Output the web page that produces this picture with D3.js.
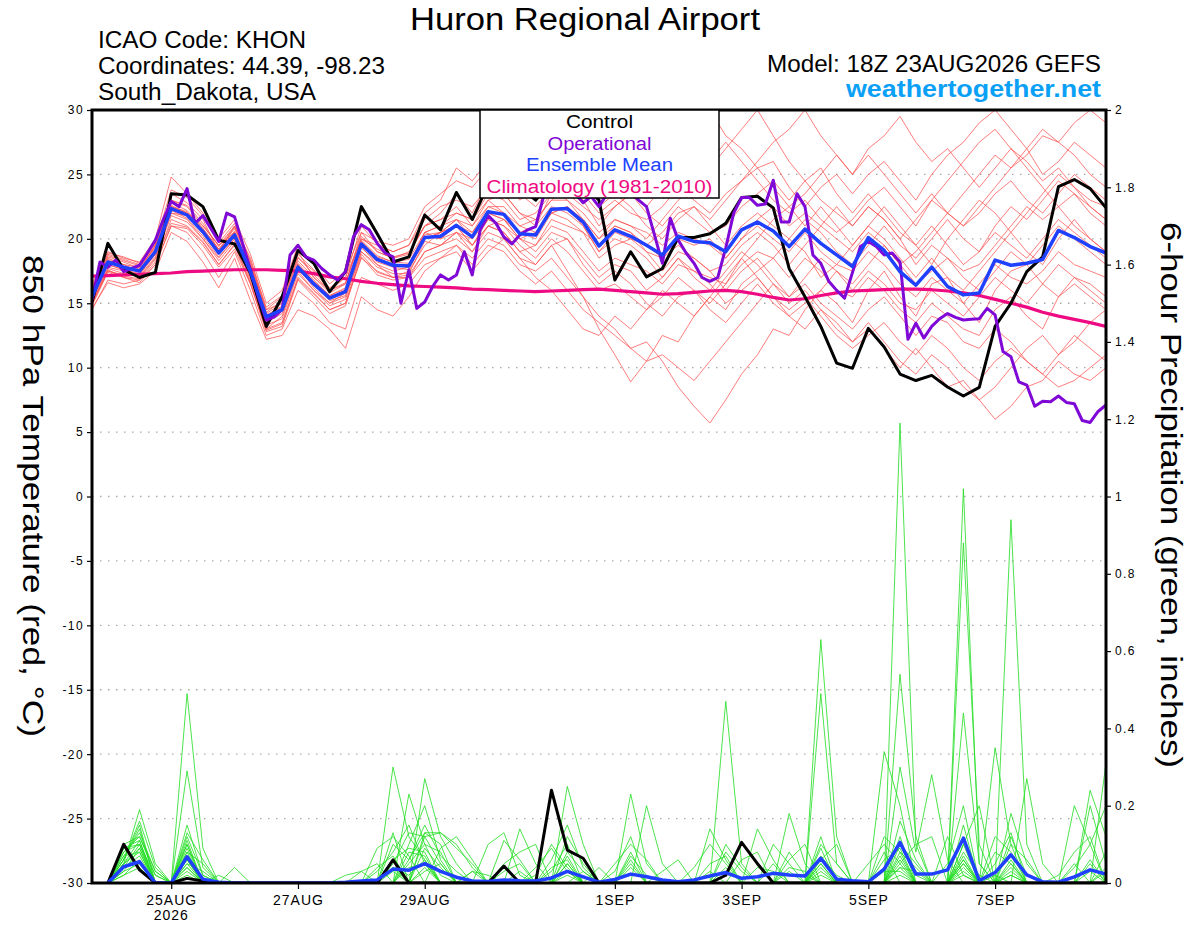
<!DOCTYPE html>
<html>
<head>
<meta charset="utf-8">
<script src="https://d3js.org/d3.v7.min.js"></script>
<style>
  body { margin: 0; background: #fff; }
  text { font-family: "Liberation Sans", Arial, sans-serif; }
</style>
</head>
<body>
<div id="chart"></div>
<script>
// ---- time axis ----
const startTime = Date.UTC(2026, 7, 23, 18); // 18Z 23AUG2026
const tickDates = [Date.UTC(2026,7,25), Date.UTC(2026,7,27), Date.UTC(2026,7,29),
                   Date.UTC(2026,8,1), Date.UTC(2026,8,3), Date.UTC(2026,8,5), Date.UTC(2026,8,7)];
const tickLabels = ["25AUG", "27AUG", "29AUG", "1SEP", "3SEP", "5SEP", "7SEP"];
const tempTicks = [-30, -25, -20, -15, -10, -5, 0, 5, 10, 15, 20, 25, 30];
const precipTicks = [0, 0.2, 0.4, 0.6, 0.8, 1, 1.2, 1.4, 1.6, 1.8, 2];

// ---- 850 hPa temperature, 6-hourly (65 points) ----
const control = [
  15.1,19.65,17.6,17.0,17.4,23.5,23.4,22.5,
  19.9,19.6,17.35,13.2,15.5,19.1,18.1,15.9,
  17.45,22.5,20.4,18.2,18.6,21.85,20.7,23.6,
  21.5,24.2,24.5,24.0,23.0,24.5,25.0,24.2,
  23.0,16.8,19.0,17.05,17.7,20.1,20.1,20.4,
  21.2,23.2,23.3,22.4,17.7,15.5,13.2,10.35,
  9.95,13.05,11.6,9.5,9.0,9.4,8.5,7.8,
  8.47,13.2,15.0,17.45,18.6,24.05,24.6,23.9,
  22.4];

const ensMean = [
  15.5,18.2,17.8,17.5,19.0,22.35,21.85,20.55,
  18.9,20.3,17.45,13.95,14.5,17.8,16.5,15.4,
  15.9,19.6,18.4,17.95,17.9,20.1,20.2,21.05,
  20.15,22.1,21.9,20.4,20.3,22.3,22.35,21.3,
  19.45,20.7,20.2,19.5,18.75,20.2,19.8,19.7,
  19.0,20.7,21.3,20.6,19.4,20.75,19.65,18.75,
  17.85,20.1,19.1,17.45,16.4,17.8,16.3,15.65,
  15.8,18.35,17.95,18.1,18.4,20.65,20.1,19.4,
  18.9];

const climatology = [
  17.1,17.15,17.2,17.25,17.3,17.35,17.45,17.5,
  17.55,17.6,17.6,17.6,17.55,17.5,17.3,17.05,
  16.9,16.7,16.55,16.45,16.35,16.3,16.25,16.2,
  16.1,16.05,16.0,15.95,15.9,15.95,16.0,16.05,
  16.1,16.0,15.9,15.8,15.7,15.75,15.85,15.95,
  16.0,15.9,15.7,15.45,15.25,15.35,15.6,15.8,
  15.95,16.0,16.05,16.1,16.1,16.05,15.95,15.8,
  15.6,15.3,15.0,14.7,14.3,14.0,13.75,13.5,
  13.2];

// operational run, 3-hourly (129 points)
const operational = [
  15.25,18.2,17.8,18.35,17.45,17.7,17.95,18.9,
  19.9,21.5,22.9,22.5,23.9,21.2,21.8,20.8,
  19.8,22.0,21.7,19.65,17.6,15.5,13.7,13.95,
  14.5,18.75,19.5,18.6,18.35,17.7,17.2,16.8,
  17.45,20.15,21.1,20.7,19.65,18.9,18.6,15.0,
  17.6,14.6,15.1,16.3,17.2,16.8,17.2,19.0,
  17.2,20.7,21.8,21.2,20.15,19.6,20.3,20.7,
  20.95,23.3,24.5,25.0,24.0,23.5,22.8,23.3,
  22.5,23.5,24.0,24.5,23.6,23.0,22.5,20.3,
  18.1,21.6,19.9,18.9,18.1,17.0,16.7,17.0,
  19.3,22.0,23.2,23.2,22.6,22.7,24.55,21.3,
  21.3,23.5,22.5,18.75,18.1,16.7,16.0,15.4,
  17.4,19.4,19.8,19.4,18.75,18.9,18.2,12.2,
  13.45,12.3,13.2,13.8,14.2,13.9,13.7,13.75,
  13.8,14.6,14.1,11.25,10.85,8.9,8.65,7.0,
  7.4,7.35,7.8,7.3,7.2,5.9,5.75,6.6,
  7.1];

// ensemble members (red), 6-hourly
const tempMembers = [
  [15.0,17.5,17.2,17.8,19.5,23.0,22.5,21.0,19.5,21.0,18.0,14.5,15.0,18.5,17.5,16.0,16.5,20.5,19.0,18.5,19.0,
   21.0,22.0,23.5,22.0,24.5,25.0,23.0,24.0,25.5,26.0,25.0,24.0,25.5,26.5,25.0,27.0,28.5,29.0,30.0,28.0,
   27.0,25.5,26.0,24.0,22.5,24.0,25.0,23.5,25.0,26.0,24.5,23.0,25.0,26.5,27.5,29.0,30.0,28.5,27.0,25.0,26.0,27.5,26.5,25.5],
  [14.5,16.8,16.5,16.8,18.0,21.0,20.5,19.0,17.0,19.0,16.0,12.5,13.0,16.0,15.0,13.5,13.0,17.0,16.5,16.0,16.5,
   18.0,18.5,19.5,18.5,20.0,19.5,18.0,17.5,18.5,17.0,15.5,14.0,13.0,11.5,12.0,10.5,8.5,7.0,5.7,7.5,
   9.5,11.0,13.0,12.5,14.5,16.0,15.0,13.5,16.0,17.5,15.5,14.0,16.5,17.0,15.0,13.5,16.0,17.5,18.0,19.5,21.0,20.0,19.0,18.0],
  [15.2,17.8,17.5,17.0,18.5,22.0,21.5,20.0,18.5,20.0,17.0,13.0,14.0,17.5,16.0,15.0,15.5,19.0,18.0,17.0,17.5,
   19.5,20.5,21.0,19.5,21.0,20.5,19.0,18.0,19.5,17.5,15.5,13.0,11.0,8.9,10.5,12.5,12.0,14.0,15.5,14.5,
   16.5,17.5,18.5,20.0,19.0,17.0,18.0,19.5,21.0,22.5,21.0,19.5,18.0,20.0,21.5,23.0,22.0,20.5,22.0,23.5,25.0,24.0,22.5,21.5],
  [16.0,18.5,18.0,17.5,19.5,22.5,22.0,21.0,19.5,20.5,17.5,14.0,14.5,18.0,16.5,15.5,16.0,19.5,18.5,18.0,18.0,
   20.5,21.0,22.0,21.5,23.0,22.0,21.0,20.5,22.0,22.5,21.0,19.0,20.0,19.5,18.5,17.0,18.5,17.5,16.5,15.0,
   16.0,17.0,15.5,14.0,13.0,14.5,13.0,12.0,13.5,12.0,10.5,9.5,11.0,10.0,8.5,7.5,6.0,7.0,8.5,9.0,10.5,9.5,9.0,10.0],
  [15.8,18.0,17.6,17.2,18.8,23.5,22.8,21.5,19.0,21.0,18.5,14.5,15.5,19.0,17.0,16.0,17.0,20.0,19.5,19.0,19.5,
   21.5,22.5,23.0,22.5,24.0,23.5,22.0,21.5,23.0,24.0,23.5,22.0,23.0,22.0,21.5,22.5,24.0,23.0,22.0,23.5,
   24.5,25.5,24.0,22.5,23.5,25.0,26.5,25.0,27.0,28.0,29.5,27.5,26.0,27.0,25.5,24.0,25.5,27.0,26.0,24.5,25.5,24.0,23.0,22.5],
  [15.0,17.6,17.0,16.8,18.2,21.5,21.0,19.8,18.0,19.5,16.5,13.0,13.5,17.0,15.8,14.5,15.0,18.5,17.5,17.0,17.0,
   19.0,19.5,20.0,19.0,21.0,20.5,19.0,19.5,21.0,20.5,19.0,17.5,18.5,18.0,17.5,16.5,18.0,17.5,17.0,16.5,
   18.0,19.0,18.5,17.0,18.5,17.5,16.0,15.5,17.0,16.0,14.5,13.5,15.0,14.0,13.0,12.5,14.5,15.5,14.0,13.0,15.5,16.5,15.5,14.5],
  [16.2,18.8,18.4,18.0,19.8,22.8,22.2,20.8,19.2,20.8,18.0,14.2,15.0,18.3,17.0,15.8,16.5,20.2,19.0,18.5,18.8,
   21.0,21.5,22.5,21.0,23.0,23.5,22.0,21.0,23.5,24.5,23.0,21.0,22.5,23.5,22.0,21.0,22.5,21.5,20.5,21.0,
   22.5,23.5,24.5,23.0,24.5,23.0,22.0,21.0,22.5,21.5,20.0,21.5,23.0,22.0,23.5,25.0,26.5,25.5,27.0,28.5,27.5,29.0,30.0,29.0],
  [15.5,18.3,17.9,17.4,19.2,22.0,21.8,20.5,18.8,20.2,17.2,13.5,14.2,17.6,16.4,15.2,15.6,19.3,18.2,17.8,17.6,
   20.0,20.5,21.5,20.0,22.0,21.5,20.0,19.5,21.5,21.0,20.5,18.5,19.5,20.0,19.0,17.5,19.0,18.5,17.5,16.0,
   17.5,18.5,17.0,15.5,16.5,15.0,14.0,13.0,14.5,15.5,14.0,12.5,14.0,13.5,12.0,11.5,13.0,12.0,10.5,9.5,8.5,9.0,10.0,11.0],
  [16.5,19.0,18.5,18.2,20.0,24.8,23.5,22.0,20.0,21.5,18.8,15.0,16.0,19.5,18.0,16.5,17.5,20.5,19.8,19.5,20.0,
   22.5,23.5,24.5,24.0,25.5,26.5,25.0,23.5,24.5,25.0,24.0,22.5,23.5,22.5,21.0,20.0,21.5,22.5,21.0,19.5,
   21.0,22.0,21.0,20.0,21.5,20.5,19.0,18.0,19.5,21.0,19.5,18.5,20.0,21.5,20.0,19.0,21.0,22.5,21.5,23.0,24.5,23.5,22.0,21.0],
  [15.3,18.0,17.6,17.3,18.8,22.2,21.6,20.2,18.6,20.0,17.0,13.8,14.4,17.8,16.2,15.0,15.8,19.4,18.0,17.5,17.8,
   20.2,20.0,21.0,19.5,21.5,21.0,19.5,18.5,20.0,19.0,17.5,16.0,16.5,15.5,14.5,15.5,17.0,16.0,15.0,16.5,
   18.5,20.0,21.5,22.5,21.0,22.5,21.0,19.5,21.0,20.0,18.5,17.0,18.5,17.0,16.0,17.5,19.0,20.5,19.0,18.0,20.0,21.5,20.0,19.0],
  [15.6,18.2,17.7,17.6,19.0,22.4,21.9,20.6,19.0,20.4,17.6,14.0,14.6,17.9,16.6,15.5,16.0,19.7,18.5,18.0,18.0,
   20.0,20.5,21.5,20.5,22.5,22.0,20.5,20.0,22.0,22.5,21.5,20.0,21.5,21.0,20.0,21.5,23.0,24.0,25.5,27.0,
   28.5,30.0,28.0,26.0,24.5,25.5,23.5,22.0,23.5,22.0,20.5,19.5,21.0,19.5,18.0,19.0,20.5,19.5,18.5,20.0,21.5,20.5,19.5,18.5],
  [14.8,17.4,17.0,16.6,18.0,21.0,20.8,19.5,17.8,19.2,16.5,12.8,13.2,16.8,15.5,14.2,14.8,18.6,17.2,16.8,17.0,
   18.5,19.0,19.5,18.0,19.5,19.0,17.5,16.5,17.5,16.0,14.5,13.5,12.5,11.5,10.5,11.0,10.0,9.0,10.5,12.0,
   13.5,15.0,16.5,15.5,17.0,18.5,17.5,16.0,17.5,16.5,15.0,14.5,16.0,15.0,14.0,15.5,17.0,16.0,15.0,16.5,18.0,17.0,16.0,15.0],
  [15.9,18.6,18.2,17.7,19.4,22.6,22.0,20.8,19.2,20.6,17.8,14.0,14.8,18.1,16.8,15.6,16.2,19.8,18.6,18.2,18.4,
   20.5,21.0,21.5,21.0,22.5,22.5,21.0,21.5,23.0,23.0,22.0,20.5,21.5,21.0,20.5,19.5,20.5,20.0,19.5,18.5,
   20.0,21.5,22.5,21.0,22.0,21.0,20.0,19.0,20.5,19.5,18.0,19.0,20.5,22.0,21.0,22.5,24.0,25.5,26.5,28.0,27.5,26.5,25.0,24.0],
  [15.1,17.7,17.3,17.1,18.6,21.8,21.3,20.0,18.3,19.8,16.8,13.3,13.8,17.3,16.0,14.8,15.3,19.0,17.8,17.3,17.3,
   19.8,19.5,20.5,19.5,21.0,21.5,20.0,19.0,20.5,20.0,18.5,17.0,18.0,17.5,16.0,17.0,18.5,17.0,16.0,17.5,
   19.0,18.0,16.5,15.0,16.0,14.5,13.5,12.0,13.0,11.5,10.0,11.5,10.0,8.5,9.0,7.5,8.5,10.0,11.5,12.5,11.0,12.0,13.5,14.5],
  [15.4,18.1,17.8,17.5,19.1,22.3,21.8,20.4,18.8,20.2,17.4,13.8,14.4,17.7,16.4,15.3,15.8,19.5,18.3,17.9,17.8,
   20.5,20.0,20.5,20.0,21.5,21.0,20.0,20.5,22.0,21.5,20.5,19.5,21.0,20.5,19.5,20.5,22.0,22.5,21.5,23.0,
   24.5,26.0,27.5,28.5,30.0,28.0,26.5,25.0,26.5,25.0,23.5,22.0,23.5,22.0,21.0,22.0,23.5,24.5,23.0,22.0,23.5,25.0,24.0,23.0],
  [15.7,18.4,18.0,17.8,19.3,22.5,22.1,20.7,19.1,20.5,17.7,14.1,14.7,18.0,16.7,15.6,16.1,19.9,18.7,18.2,18.1,
   20.3,20.5,21.0,20.5,22.0,21.5,20.5,21.0,22.5,22.0,21.0,19.0,20.5,20.0,19.5,18.5,20.0,19.5,20.0,18.5,
   20.0,21.0,20.0,19.0,20.5,19.0,18.0,17.5,19.0,18.0,16.5,15.5,17.0,16.0,15.0,16.5,18.0,17.0,16.5,17.5,19.0,18.0,17.5,17.0],
  [14.9,17.5,17.1,16.9,18.4,21.2,20.9,19.7,18.0,19.6,16.6,12.9,13.4,16.9,15.7,14.5,15.0,18.8,17.4,17.0,17.2,
   19.0,19.5,20.5,19.0,20.5,20.0,18.5,17.0,16.0,14.5,13.0,12.5,14.0,13.0,14.5,16.0,15.0,14.0,15.5,17.0,
   18.5,17.0,15.5,14.5,15.5,14.0,12.5,11.5,12.5,13.5,12.0,11.0,12.5,11.5,10.0,9.0,10.5,11.5,10.5,9.5,11.0,12.5,11.5,10.5],
  [16.1,18.7,18.3,17.9,19.6,23.0,22.6,21.2,19.4,20.9,18.2,14.3,15.2,18.6,17.2,16.0,16.6,20.0,19.2,18.6,18.9,
   21.0,21.5,22.0,21.5,23.5,23.0,21.5,22.0,23.5,23.5,22.5,21.5,22.5,23.5,22.5,24.0,25.5,27.0,26.0,27.5,
   26.0,24.5,23.0,22.0,23.0,21.5,20.5,21.5,23.0,24.0,22.5,21.0,23.0,24.5,26.0,27.5,28.5,27.0,25.5,24.0,22.5,23.5,22.5,21.5],
  [14.6,16.6,16.2,16.5,17.5,20.5,19.8,18.2,16.2,18.5,15.2,12.2,12.5,14.5,14.0,13.0,11.5,15.5,14.5,14.0,15.5,
   17.5,18.5,19.0,17.5,19.0,20.0,18.5,18.0,19.5,20.0,18.0,16.5,17.5,16.5,15.0,14.0,15.5,16.0,14.5,13.5,
   15.0,16.5,15.0,14.0,15.0,16.0,17.5,16.5,18.0,19.5,18.0,16.5,17.5,18.5,17.0,16.0,17.5,19.0,18.0,16.5,15.5,17.0,16.5,15.5],
  [16.3,18.9,18.6,18.1,19.7,23.8,23.2,21.8,19.7,21.2,18.3,14.7,15.6,18.8,17.6,16.2,17.0,21.0,19.6,19.0,19.5,
   22.0,23.0,25.5,24.5,26.0,25.0,23.5,22.5,24.0,23.0,21.5,20.0,21.0,20.5,19.0,18.5,19.5,18.5,17.5,18.0,
   19.5,20.5,19.5,18.0,19.5,21.0,22.5,21.0,22.5,21.5,20.0,18.0,19.5,18.5,17.5,18.0,19.5,21.0,22.5,21.5,22.5,21.0,20.0,19.0]
];

// ---- 6-hour precipitation (inches), valid 00Z 24AUG .. 18Z 8SEP (64 points) ----
const controlPrecip = [
  0,.10,.034,0,0,.012,.005,0,
  0,0,0,0,0,0,0,0,
  0,0,.06,0,0,0,0,0,
  0,.044,0,0,.24,.085,.064,0,
  0,0,0,0,0,0,0,.02,
  .105,.05,0,0,0,0,0,0,
  0,0,0,0,0,0,0,0,
  0,0,0,0,0,0,0,0];

const meanPrecip = [
  0,.042,.055,0,0,.068,.01,.002,
  0,0,0,0,0,0,0,.002,
  .005,.008,.036,.033,.05,.03,.015,.005,
  .004,.008,.006,.005,.013,.03,.016,.002,
  .009,.023,.016,.008,.003,.008,.018,.027,
  .012,.016,.025,.021,.018,.064,.01,.006,
  .003,.036,.105,.023,.023,.034,.116,.006,
  .027,.073,.021,.003,.002,.016,.034,.023];

const precipMembers = [
  [0,.08,.12,.03,0,.49,.09,0, 0,0,0,0,0,0,0,0, 0,0,.30,.12,.06,0,0,0, 0,0,0,0,0,.05,0,0,
   0,.05,0,0,0,0,0,.47, .05,0,0,0,0,.05,0,0, 0,0,1.19,.1,0,0,.05,0, 0,.02,0,0,0,0,0,0],
  [0,.05,.19,.05,0,.29,.04,0, 0,0,0,0,0,0,0,0, 0,0,0,.23,.10,.08,0,0, 0,0,.14,.05,0,0,0,0,
   0,0,.2,.05,0,0,0,0, 0,0,0,0,0,.63,.12,0, 0,.08,0,0,0,0,1.02,.05, 0,0,0,0,0,.2,.1,0],
  [0,.06,.15,0,0,.13,.06,0, 0,0,0,0,0,0,0,0, 0,0,.13,0,.27,.12,.05,0, 0,0,0,0,0,.25,.1,0,
   0,0,0,0,0,0,0,0, 0,0,.05,0,0,.49,.05,0, 0,0,.54,.12,0,0,0,0, 0,.94,.1,0,0,0,0,.31],
  [0,.09,.1,.02,0,.11,0,0, .04,0,0,0,0,0,0,0, 0,.09,.12,.07,0,0,0,.03, 0,0,0,0,0,0,0,0,
   0,.23,.05,0,0,0,.14,.06, 0,0,0,0,0,0,0,0, 0,.34,.2,0,0,0,.88,.1, 0,0,0,0,0,0,.24,.12],
  [0,.07,.08,0,0,.08,.05,0, 0,0,0,0,0,0,0,0, .03,.05,0,0,.13,.1,0,0, 0,.11,.06,0,0,0,0,0,
   0,0,0,0,0,0,0,0, 0,0,0,.18,.05,0,0,0, 0,0,.3,.08,.28,.06,0,0, .35,.1,0,0,0,.05,0,0],
  [0,.04,.1,0,0,.1,0,0, 0,0,0,0,0,0,0,0, 0,0,0,0,.12,.13,.09,.05, 0,0,0,0,.06,.15,.04,0,
   0,0,0,0,0,0,0,0, 0,.14,.06,0,0,.12,0,0, 0,0,.12,0,0,0,.44,.05, 0,0,.27,.05,0,0,0,0],
  [0,.1,.12,.02,0,.06,0,0, 0,0,0,0,0,0,0,0, 0,0,.05,.13,.12,.05,0,0, .1,.13,.02,0,0,0,0,0,
   0,0,0,0,0,0,0,.1, .04,0,0,0,0,.06,.1,0, 0,.12,.08,0,0,0,.15,0, 0,.18,.05,0,0,0,.2,.05],
  [0,.03,.09,0,0,.05,.03,0, 0,0,0,0,0,0,0,0, 0,0,0,.1,.2,.06,0,0, 0,0,0,0,0,.08,.03,0,
   .03,.12,0,0,0,0,0,0, 0,0,0,.06,.1,0,0,0, 0,0,.16,.06,0,.05,.2,0, .12,.08,0,0,0,0,0,0],
  [0,.06,.14,0,0,.12,.02,0, 0,0,0,0,0,0,0,0, 0,.03,.08,.15,.05,0,0,0, 0,0,0,.04,.09,.03,0,0,
   0,0,0,0,0,.04,.1,.05, 0,0,0,0,0,.04,0,0, .05,.1,.05,0,0,0,.1,.2, 0,0,0,0,.02,.08,.12,0],
  [0,.05,.11,0,0,.07,0,0, 0,0,0,0,0,0,0,0, 0,0,.1,.06,.13,.13,.1,.04, 0,0,0,0,0,.12,.05,0,
   0,0,0,.03,.06,0,0,0, 0,0,.1,.05,0,0,0,0, 0,.04,.1,.05,0,0,0,0, 0,.1,.06,0,0,0,0,.08],
  [0,.02,.06,0,0,.09,0,0, 0,0,0,0,0,0,0,0, 0,0,0,.04,.05,0,0,0, 0,.05,.08,.1,0,0,0,.04,
   0,.07,.02,0,0,0,0,0, .06,.08,0,0,0,.07,.02,0, 0,0,.05,.1,.12,0,.06,0, .05,.13,0,0,0,0,.06,0],
  [0,.07,.13,.03,0,.1,0,0, 0,0,0,0,0,0,0,0, 0,0,.06,.09,.08,0,0,0, 0,0,0,0,.04,.06,0,0,
   .05,.1,.06,0,0,0,0,0, 0,0,0,.04,.03,0,0,0, 0,0,.07,0,0,0,.08,.02, 0,.05,0,0,0,.04,.1,.2],
  [0,.04,.07,0,0,.04,0,0, 0,0,0,0,0,0,0,0, 0,.04,.07,0,0,.09,.12,.06, 0,0,0,0,0,.07,0,0,
   0,0,0,0,0,0,.05,.07, 0,0,0,0,0,.09,0,0, 0,.06,.09,0,0,.12,.02,0, .08,.05,0,0,0,0,0,0],
  [0,.08,.1,0,0,.03,0,.02, 0,0,0,0,0,0,0,0, 0,0,0,.08,.07,0,0,0, 0,.03,.05,0,0,0,.03,0,
   0,.04,0,0,0,0,0,0, 0,.04,.03,0,0,0,0,0, 0,0,.04,.03,0,0,.05,0, 0,.03,0,0,0,0,.03,0],
  [0,.06,.16,.04,0,.15,.02,0, 0,0,0,0,0,0,0,0, 0,0,.04,0,.09,.04,0,0, 0,0,0,.02,.1,.04,0,0,
   0,0,0,0,0,0,0,.08, .03,0,0,0,0,.1,.05,0, 0,0,.06,0,0,0,.1,0, 0,.06,0,0,0,0,0,.04],
  [0,.05,.09,0,0,.06,0,0, 0,0,0,0,0,0,0,0, 0,0,0,.05,.1,.02,0,0, 0,0,0,0,0,.02,0,0,
   0,.06,0,0,0,0,0,0, 0,0,0,.08,.02,0,0,0, 0,.03,.03,0,0,0,.04,0, 0,.02,0,0,0,0,0,0],
  [0,.03,.05,0,0,.04,0,0, 0,0,0,0,0,0,0,.02, .03,0,.03,0,.04,0,0,.03, .02,0,0,0,0,.05,0,0,
   0,0,0,0,0,0,0,0, 0,0,0,0,0,.03,0,0, 0,0,.02,0,0,0,.03,0, .02,0,0,0,0,0,0,0],
  [0,.09,.11,0,0,.08,0,0, 0,0,0,0,0,0,0,0, 0,0,0,.06,.15,.07,.03,0, 0,0,0,0,0,.03,0,0,
   0,.08,0,0,0,0,0,.04, 0,0,0,0,0,.05,0,0, 0,0,.1,.02,0,0,.06,0, 0,.12,.02,0,0,0,.05,0],
  [0,.02,.04,0,0,.02,0,0, 0,0,0,0,0,0,0,0, 0,0,0,0,.03,.05,0,0, 0,0,.03,0,0,0,0,0,
   0,0,0,0,0,0,0,0, 0,0,0,0,0,.02,0,0, 0,0,.04,0,0,0,.02,0, 0,0,0,0,0,0,0,0],
  [0,.05,.08,0,0,.05,0,0, 0,0,0,0,0,0,0,0, 0,0,.04,.02,.06,0,0,0, 0,0,0,0,.03,.1,0,0,
   0,0,0,0,0,0,.03,0, 0,0,0,.03,0,0,0,0, 0,0,.08,.04,0,0,.07,0, 0,.04,0,0,0,0,0,.03]
];

// ---- layout ----
const width = 1200, height = 927;
const plotLeft = 92, plotRight = 1106, plotTop = 110, plotBottom = 883;
const HOUR = 3600 * 1000;

const svg = d3.select("#chart").append("svg")
  .attr("width", width).attr("height", height);

const x = d3.scaleUtc()
  .domain([new Date(startTime), new Date(startTime + 64 * 6 * HOUR)])
  .range([plotLeft, plotRight]);
const yT = d3.scaleLinear().domain([-30, 30]).range([plotBottom, plotTop]);
const yP = d3.scaleLinear().domain([0, 2]).range([plotBottom, plotTop]);

svg.append("clipPath").attr("id", "plot-clip")
  .append("rect").attr("x", plotLeft).attr("y", plotTop)
  .attr("width", plotRight - plotLeft).attr("height", plotBottom - plotTop);

// dotted grid lines
svg.append("g").selectAll("line")
  .data(tempTicks.filter(d => d > -30 && d < 30))
  .join("line")
  .attr("x1", plotLeft).attr("x2", plotRight)
  .attr("y1", d => yT(d)).attr("y2", d => yT(d))
  .attr("stroke", "#a8a8a8").attr("stroke-width", 1.3)
  .attr("stroke-dasharray", "1.5,6.5");

const plot = svg.append("g").attr("clip-path", "url(#plot-clip)");

const tempLine = step => d3.line()
  .x((d, i) => x(new Date(startTime + i * step * HOUR)))
  .y(d => yT(d));
const precipLine = d3.line()
  .x((d, i) => x(new Date(startTime + (i + 1) * 6 * HOUR)))
  .y(d => yP(d));

plot.append("g").selectAll("path")
  .data(tempMembers).join("path")
  .attr("d", tempLine(6))
  .attr("fill", "none").attr("stroke", "#ff4a4a")
  .attr("stroke-width", 0.9).attr("stroke-opacity", 0.8);

plot.append("g").selectAll("path")
  .data(precipMembers).join("path")
  .attr("d", precipLine)
  .attr("fill", "none").attr("stroke", "#22dd22")
  .attr("stroke-width", 0.9).attr("stroke-opacity", 0.9);

const heavy = (data, gen, color, w) => plot.append("path")
  .datum(data).attr("d", gen)
  .attr("fill", "none").attr("stroke", color)
  .attr("stroke-width", w).attr("stroke-linejoin", "round");

heavy(climatology, tempLine(6), "#ee0a82", 3.2);
heavy(control, tempLine(6), "#000000", 3);
heavy(controlPrecip, precipLine, "#000000", 3);
heavy(operational, tempLine(3), "#7f08d6", 3);
heavy(ensMean, tempLine(6), "#2040ff", 3.5);
heavy(meanPrecip, precipLine, "#2040ff", 3.5);

// axes
const xAxis = svg.append("g")
  .attr("transform", `translate(0,${plotBottom})`)
  .call(d3.axisBottom(x)
    .tickValues(tickDates.map(d => new Date(d)))
    .tickFormat((d, i) => tickLabels[i])
    .tickSize(6).tickPadding(6));
xAxis.selectAll("text").attr("font-size", 14).attr("letter-spacing", 1).attr("fill", "#000");
xAxis.append("text")
  .attr("x", x(new Date(tickDates[0]))).attr("y", 37)
  .attr("text-anchor", "middle").attr("font-size", 14).attr("letter-spacing", 1)
  .attr("fill", "#000")
  .text("2026");

const yAxisL = svg.append("g")
  .attr("transform", `translate(${plotLeft},0)`)
  .call(d3.axisLeft(yT).tickValues(tempTicks).tickFormat(d => String(d))
    .tickSize(5).tickPadding(3));
yAxisL.selectAll("text").attr("font-size", 12).attr("letter-spacing", 1.4).attr("fill", "#000");

const yAxisR = svg.append("g")
  .attr("transform", `translate(${plotRight},0)`)
  .call(d3.axisRight(yP).tickValues(precipTicks).tickFormat(d3.format("~g"))
    .tickSize(5).tickPadding(4));
yAxisR.selectAll("text").attr("font-size", 12).attr("letter-spacing", 1.4).attr("fill", "#000");

[xAxis, yAxisL, yAxisR].forEach(g => {
  g.select(".domain").remove();
  g.selectAll(".tick line").attr("stroke", "#000").attr("stroke-width", 1.2);
});

// frame
svg.append("rect")
  .attr("x", plotLeft).attr("y", plotTop)
  .attr("width", plotRight - plotLeft).attr("height", plotBottom - plotTop)
  .attr("fill", "none").attr("stroke", "#000").attr("stroke-width", 3);

// legend
const legend = [
  { label: "Control", color: "#000000", len: 67 },
  { label: "Operational", color: "#7f08d6", len: 104 },
  { label: "Ensemble Mean", color: "#2040ff", len: 147 },
  { label: "Climatology (1981-2010)", color: "#ee0a82", len: 226 }
];
svg.append("rect")
  .attr("x", 480).attr("y", plotTop).attr("width", 239).attr("height", 88)
  .attr("fill", "#fff").attr("stroke", "#000").attr("stroke-width", 1.5);
svg.append("g").selectAll("text")
  .data(legend).join("text")
  .attr("x", 599.5).attr("y", (d, i) => 128 + i * 21.5)
  .attr("text-anchor", "middle").attr("font-size", 18)
  .attr("textLength", d => d.len).attr("lengthAdjust", "spacingAndGlyphs")
  .attr("fill", d => d.color)
  .text(d => d.label);

// titles
const label = (txt, xPos, yPos, size, anchor, len, extra) => {
  const t = svg.append("text")
    .attr("x", xPos).attr("y", yPos).attr("font-size", size)
    .attr("text-anchor", anchor).attr("fill", "#000")
    .attr("textLength", len).attr("lengthAdjust", "spacingAndGlyphs")
    .text(txt);
  if (extra) extra(t);
  return t;
};
label("Huron Regional Airport", 585, 30, 31, "middle", 350);
label("ICAO Code: KHON", 98, 48, 23, "start", 208);
label("Coordinates: 44.39, -98.23", 98, 74, 23, "start", 287);
label("South_Dakota, USA", 98, 100, 23, "start", 218);
label("Model: 18Z 23AUG2026 GEFS", 1101, 72, 23, "end", 334);
label("weathertogether.net", 1101, 97, 24, "end", 255,
  t => t.attr("font-weight", "bold").attr("fill", "#0aa0f5"));

label("850 hPa Temperature (red, \u00B0C)", 0, 0, 30, "middle", 482,
  t => t.attr("transform", "translate(23,496) rotate(90)"));
label("6-hour Precipitation (green, inches)", 0, 0, 30, "middle", 546,
  t => t.attr("transform", "translate(1161,495) rotate(90)"));
</script>
</body>
</html>
